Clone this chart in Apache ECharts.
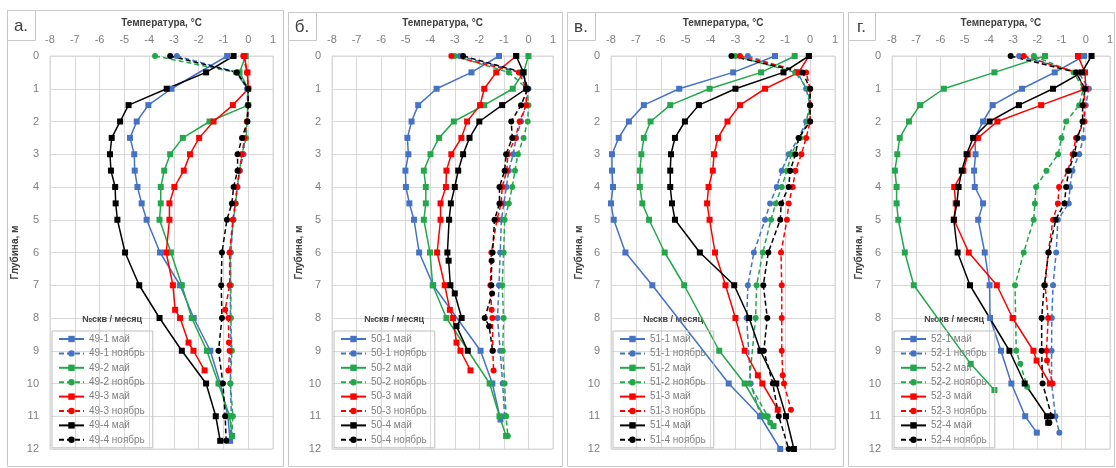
<!DOCTYPE html>
<html><head><meta charset="utf-8">
<script src="https://cdn.jsdelivr.net/npm/echarts@6/dist/echarts.min.js"></script>
<style>html,body{margin:0;padding:0;background:#fff}#c{width:1116px;height:468px}</style>
</head><body><div id="c"></div>
<script>
// ---- axis / labels ----
const tempMin = -8, tempMax = 1, tempStep = 1;
const depthMin = 0, depthMax = 12, depthStep = 1;
const xAxisTitle = 'Температура, °C';
const yAxisTitle = 'Глубина, м';
const legendTitle = '№скв / месяц';
const panelLabels = ['а.', 'б.', 'в.', 'г.'];
const wells = ['49', '50', '51', '52'];
const boreholes = ['1', '2', '3', '4'];
const months = ['май', 'ноябрь'];

// ---- data: [temperature °C, depth m] ----
// well 49
const s49_1_may = [[-0.85,0],[-3.1,1],[-4.03,1.5],[-4.5,2],[-4.77,2.5],[-4.6,3],[-4.58,3.5],[-4.47,4],[-4.3,4.5],[-4.1,5],[-3.56,6],[-2.75,7],[-2.2,8],[-1.53,9],[-1.13,10],[-0.82,11],[-0.73,11.75]];
const s49_1_nov = [[-2.88,0],[-0.45,0.5],[-0.05,1],[-0.02,1.5],[-0.05,2],[-0.15,2.5],[-0.19,3],[-0.35,3.5],[-0.43,4],[-0.53,4.5],[-0.6,5],[-0.7,6],[-0.72,7],[-0.72,8],[-0.7,9],[-0.72,10],[-0.68,11],[-0.75,11.75]];
const s49_2_may = [[-0.1,0],[-0.35,0.5],[0,1],[0,1.5],[-1.56,2],[-2.64,2.5],[-3.15,3],[-3.39,3.5],[-3.53,4],[-3.53,4.5],[-3.58,5],[-3.12,6],[-2.68,7],[-2.28,8],[-1.67,9],[-1.2,10],[-0.75,11],[-0.65,11.6]];
const s49_2_nov = [[-3.76,0],[-0.5,0.5],[-0.02,1],[-0.02,1.5],[-0.05,2],[-0.08,2.5],[-0.26,3],[-0.35,3.5],[-0.45,4],[-0.5,4.5],[-0.6,5],[-0.73,6],[-0.7,7],[-0.7,8],[-0.66,9],[-0.72,10],[-0.62,11],[-0.66,11.6]];
const s49_3_may = [[-0.16,0],[-0.03,0.5],[0,1],[-0.62,1.5],[-1.4,2],[-1.98,2.5],[-2.35,3],[-2.6,3.5],[-2.98,4],[-3.18,4.5],[-3.18,5],[-3.31,6],[-3.04,7],[-2.95,7.75],[-2.75,8],[-2.41,8.75],[-2.21,9],[-1.76,9.6]];
const s49_3_nov = [[-0.2,0],[-0.05,0.5],[0,1],[0,1.5],[-0.05,2],[-0.15,2.5],[-0.25,3],[-0.35,3.5],[-0.45,4],[-0.52,4.5],[-0.62,5],[-0.75,6],[-0.75,7],[-0.93,7.75],[-0.8,8],[-0.78,8.75],[-0.75,9],[-0.8,9.6]];
const s49_4_may = [[-0.59,0],[-1.7,0.5],[-3.29,1],[-4.83,1.5],[-5.17,2],[-5.51,2.5],[-5.58,3],[-5.54,3.5],[-5.37,4],[-5.35,4.5],[-5.28,5],[-4.97,6],[-4.4,7],[-3.58,8],[-2.68,9],[-1.7,10],[-1.31,11],[-1.13,11.75]];
const s49_4_nov = [[-3.15,0],[-0.46,0.5],[0,1],[0,1.5],[-0.03,2],[-0.25,2.5],[-0.43,3],[-0.43,3.5],[-0.59,4],[-0.66,4.5],[-0.86,5],[-1.06,6],[-1.09,7],[-1.06,8],[-1.2,9],[-1.02,10],[-0.93,11],[-0.89,11.75]];
// well 50
const s50_1_may = [[-1.2,0],[-2.32,0.5],[-3.74,1],[-4.49,1.5],[-4.76,2],[-4.93,2.5],[-4.89,3],[-5.01,3.5],[-4.99,4],[-4.85,4.5],[-4.66,5],[-4.45,6],[-3.88,7],[-1.95,9],[-1.47,10],[-1.14,11.1]];
const s50_1_nov = [[-2.8,0],[-0.3,0.5],[0,1],[-0.1,1.5],[-0.3,2],[-0.5,2.5],[-0.62,3],[-0.8,3.5],[-0.9,4],[-1.0,4.5],[-1.1,5],[-1.15,6],[-1.2,7],[-1.26,8],[-1.15,9],[-1.05,10],[-0.97,11]];
const s50_2_may = [[0,0],[-0.2,0.5],[-0.64,1],[-1.8,1.5],[-3.04,2],[-3.64,2.5],[-3.99,3],[-4.26,3.5],[-4.18,4],[-4.18,4.5],[-4.26,5],[-4.01,6],[-3.9,7],[-3.34,8],[-1.58,10],[-1.18,11],[-0.91,11.6]];
const s50_2_nov = [[-3.0,0],[-0.8,0.5],[-0.05,1],[0,1.5],[-0.03,2],[-0.2,2.5],[-0.43,3],[-0.55,3.5],[-0.66,4],[-0.8,4.5],[-0.97,5],[-1.01,6],[-1.07,7],[-1.01,8],[-1.05,9],[-0.97,10],[-0.91,11],[-0.84,11.6]];
const s50_3_may = [[-0.5,0],[-1.31,0.5],[-1.8,1],[-1.97,1.5],[-2.5,2],[-2.73,2.5],[-3.14,3],[-3.34,3.5],[-3.36,4],[-3.58,4.5],[-3.58,5],[-3.72,6],[-3.41,7],[-3.2,7.75],[-3.07,8],[-2.93,8.75],[-2.77,9],[-2.36,9.6]];
const s50_3_nov = [[-3.14,0],[-0.39,0.5],[-0.09,1],[-0.09,1.5],[-0.36,2],[-0.53,2.5],[-0.84,3],[-0.88,3.5],[-1.07,4],[-1.11,4.5],[-1.28,5],[-1.51,6],[-1.55,7],[-1.5,7.75],[-1.47,8],[-1.45,9],[-1.42,9.6]];
const s50_4_may = [[-0.5,0],[-0.2,0.5],[-0.09,1],[-1.07,1.5],[-2.0,2],[-2.4,2.5],[-2.66,3],[-2.86,3.5],[-3.0,4],[-3.16,4.5],[-3.23,5],[-3.3,6],[-3.25,6.25],[-3.18,7],[-3.0,7.25],[-2.72,8],[-2.93,8.25],[-2.47,9]];
const s50_4_nov = [[-2.66,0],[-0.23,0.5],[-0.03,1],[-0.3,1.5],[-0.7,2],[-0.66,2.5],[-0.91,3],[-0.97,3.5],[-1.18,4],[-1.18,4.5],[-1.38,5],[-1.46,6],[-1.5,6.25],[-1.51,7],[-1.48,7.25],[-1.78,8],[-1.6,8.25],[-1.46,9]];
// well 51
const s51_1_may = [[-1.41,0],[-3.09,0.5],[-5.26,1],[-6.68,1.5],[-7.28,2],[-7.69,2.5],[-7.96,3],[-7.96,3.5],[-7.92,4],[-8.0,4.5],[-7.89,5],[-7.42,6],[-6.34,7],[-3.27,10],[-2.01,11],[-1.2,12]];
const s51_1_nov = [[-2.5,0],[-0.5,0.5],[-0.16,1],[0,1.5],[-0.16,2],[-0.46,2.5],[-0.86,3],[-1.14,3.5],[-1.34,4],[-1.61,4.5],[-1.81,5],[-2.26,6],[-2.5,7],[-2.55,8],[-2.39,10],[-1.98,11]];
const s51_2_may = [[-0.62,0],[-1.97,0.5],[-4.04,1],[-5.62,1.5],[-6.41,2],[-6.68,2.5],[-6.78,3],[-6.84,3.5],[-6.84,4],[-6.74,4.5],[-6.47,5],[-5.84,6],[-5.06,7],[-3.65,9],[-2.63,10],[-1.85,11],[-1.47,11.3]];
const s51_2_nov = [[-3.0,0],[-0.6,0.5],[-0.1,1],[0,1.5],[-0.1,2],[-0.4,2.5],[-0.76,3],[-0.93,3.5],[-1.14,4],[-1.38,4.5],[-1.57,5],[-1.9,6],[-2.15,7],[-2.19,8],[-2.45,10],[-1.7,11],[-1.6,11.2]];
const s51_3_may = [[-0.05,0],[-0.46,0.5],[-1.81,1],[-2.82,1.5],[-3.32,2],[-3.7,2.5],[-3.86,3],[-3.91,3.5],[-4.08,4],[-4.14,4.5],[-4.04,5],[-3.82,6],[-3.4,7],[-3.0,8],[-2.63,9],[-2.1,9.75],[-1.92,10],[-1.3,10.8]];
const s51_3_nov = [[-2.82,0],[-0.16,0.5],[0,1],[0,1.5],[0,2],[-0.16,2.5],[-0.35,3],[-0.59,3.5],[-0.7,4],[-0.86,4.5],[-0.93,5],[-1.17,6],[-1.14,7],[-1.14,8],[-1.14,9],[-1.1,9.75],[-1.05,10],[-0.77,10.8]];
const s51_4_may = [[-0.05,0],[-1.07,0.5],[-3.0,1],[-4.47,1.5],[-5.03,2],[-5.43,2.5],[-5.59,3],[-5.62,3.5],[-5.62,4],[-5.55,4.5],[-5.43,5],[-4.43,6],[-3.05,7],[-2.45,8],[-2.0,9],[-1.36,10],[-0.97,11],[-0.65,12]];
const s51_4_nov = [[-3.16,0],[-0.3,0.5],[0,1],[0,1.5],[0,2],[-0.46,2.5],[-0.59,3],[-0.8,3.5],[-0.86,4],[-1.16,4.5],[-1.2,5],[-1.68,6],[-1.88,7],[-1.72,8],[-1.86,9],[-1.5,10],[-1.26,11],[-0.86,12]];
// well 52
const s52_1_may = [[-0.07,0],[-1.28,0.5],[-2.63,1],[-3.84,1.5],[-4.24,2],[-4.58,2.5],[-4.55,3],[-4.61,3.5],[-4.58,4],[-4.24,4.5],[-4.44,5],[-4.17,6],[-3.97,7],[-3.95,8],[-3.5,9],[-3.07,10],[-2.5,11],[-2.02,11.5]];
const s52_1_nov = [[-2.75,0],[-0.3,0.5],[0.13,1],[0,1.5],[-0.07,2],[-0.1,2.5],[-0.27,3],[-0.55,3.5],[-0.65,4],[-0.7,4.5],[-1.15,5],[-1.22,6],[-1.35,7],[-1.4,8],[-1.41,9],[-1.41,10],[-1.25,11],[-1.09,11.5]];
const s52_2_may = [[-1.68,0],[-3.77,0.5],[-5.86,1],[-6.84,1.5],[-7.3,2],[-7.68,2.5],[-7.78,3],[-7.88,3.5],[-7.81,4],[-7.81,4.5],[-7.74,5],[-7.47,6],[-7.1,7],[-4.75,9.4],[-3.77,10.2]];
const s52_2_nov = [[-2.14,0],[-0.5,0.5],[-0.1,1],[-0.27,1.5],[-0.81,2],[-1.0,2.5],[-1.14,3],[-1.62,3.5],[-2.05,4],[-2.1,4.5],[-2.15,5],[-2.56,6],[-2.92,7],[-2.87,9],[-2.7,9.4],[-2.42,10.1]];
const s52_3_may = [[-0.32,0],[-0.03,0.5],[0,1],[-1.84,1.5],[-3.65,2],[-4.45,2.5],[-4.87,3],[-5.05,3.5],[-5.43,4],[-5.37,4.5],[-5.44,5],[-4.83,6],[-3.67,7],[-3.02,8],[-2.16,9],[-2.03,9.3],[-1.48,10]];
const s52_3_nov = [[-2.56,0],[-0.4,0.5],[-0.05,1],[-0.07,1.5],[-0.05,2],[-0.4,2.5],[-0.54,3],[-0.74,3.5],[-1.1,4],[-1.15,4.5],[-1.35,5],[-1.55,6],[-1.68,7],[-1.55,8],[-1.62,9],[-1.6,9.3],[-1.37,10]];
const s52_4_may = [[0.24,0],[-0.16,0.5],[-1.35,1],[-2.76,1.5],[-3.97,2],[-4.65,2.5],[-4.92,3],[-5.12,3.5],[-5.25,4],[-5.32,4.5],[-5.45,5],[-5.29,6],[-4.78,7],[-3.15,9],[-2.52,10],[-1.6,11],[-1.55,11.2]];
const s52_4_nov = [[-3.1,0],[-0.4,0.5],[-0.03,1],[-0.13,1.5],[-0.13,2],[-0.34,2.5],[-0.47,3],[-0.7,3.5],[-0.81,4],[-0.88,4.5],[-1.24,5],[-1.53,6],[-1.71,7],[-1.82,8],[-1.82,9],[-1.78,10],[-1.41,11],[-1.5,11.2]];

const panelData = [
  [[s49_1_may, s49_1_nov], [s49_2_may, s49_2_nov], [s49_3_may, s49_3_nov], [s49_4_may, s49_4_nov]],
  [[s50_1_may, s50_1_nov], [s50_2_may, s50_2_nov], [s50_3_may, s50_3_nov], [s50_4_may, s50_4_nov]],
  [[s51_1_may, s51_1_nov], [s51_2_may, s51_2_nov], [s51_3_may, s51_3_nov], [s51_4_may, s51_4_nov]],
  [[s52_1_may, s52_1_nov], [s52_2_may, s52_2_nov], [s52_3_may, s52_3_nov], [s52_4_may, s52_4_nov]]
];

// ---- styles / layout ----
const colors = ['#4472C4', '#22A84A', '#FF0000', '#000000'];
const FONT = 'Liberation Sans, Arial, sans-serif';
const gridLeft = [50, 332, 611, 892];
const gridWidth = [223, 221, 224, 223];
const gridTop = 56, gridHeight = 393;
const yNameGap = [30, 28, 25, 28];
const panelBox = [[7, 10, 276, 456], [288, 12, 274, 454], [567, 12, 276, 454], [848, 12, 266, 454]];
const labelBox = [[7, 10, 28, 30], [288, 12, 28, 28], [567, 12, 28, 28], [848, 12, 27, 28]];

const chart = echarts.init(document.getElementById('c'), null, {renderer: 'canvas'});
const grids = [], xAxes = [], yAxes = [], series = [], legends = [], graphics = [];

for (let p = 0; p < 4; p++) {
  graphics.push({type: 'rect', shape: {x: panelBox[p][0] + 0.5, y: panelBox[p][1] + 0.5, width: panelBox[p][2], height: panelBox[p][3]},
    style: {fill: null, stroke: '#c9c9c9', lineWidth: 1}, z: 0, silent: true});
  graphics.push({type: 'rect', shape: {x: labelBox[p][0] + 0.5, y: labelBox[p][1] + 0.5, width: labelBox[p][2], height: labelBox[p][3]},
    style: {fill: '#fff', stroke: '#c9c9c9', lineWidth: 1}, z: 1, silent: true});
  graphics.push({type: 'text', x: labelBox[p][0] + labelBox[p][2] / 2, y: labelBox[p][1] + labelBox[p][3] / 2 + 1,
    style: {text: panelLabels[p], font: '17px ' + FONT, fill: '#404040', textAlign: 'center', textVerticalAlign: 'middle'}, z: 2, silent: true});
  graphics.push({type: 'text', x: gridLeft[p] + 62, y: 320,
    style: {text: legendTitle, font: 'bold 9px ' + FONT, fill: '#404040', textAlign: 'center', textVerticalAlign: 'middle'}, z: 2, silent: true});

  grids.push({left: gridLeft[p], top: gridTop, width: gridWidth[p], height: gridHeight, show: true, borderColor: '#d9d9d9', borderWidth: 1, containLabel: false});
  xAxes.push({type: 'value', gridIndex: p, position: 'top', min: tempMin, max: tempMax, interval: tempStep,
    name: xAxisTitle, nameLocation: 'middle', nameGap: 28,
    nameTextStyle: {fontFamily: FONT, fontSize: 10, fontWeight: 'bold', color: '#404040'},
    axisLine: {show: false}, axisTick: {show: false},
    axisLabel: {fontFamily: FONT, fontSize: 11, color: '#7f7f7f', margin: 11},
    splitLine: {show: true, lineStyle: {color: '#d9d9d9', width: 1}}});
  yAxes.push({type: 'value', gridIndex: p, inverse: true, min: depthMin, max: depthMax, interval: depthStep,
    name: yAxisTitle, nameLocation: 'middle', nameGap: yNameGap[p], nameRotate: 90,
    nameTextStyle: {fontFamily: FONT, fontSize: 10, fontWeight: 'bold', color: '#404040'},
    axisLine: {show: false}, axisTick: {show: false},
    axisLabel: {fontFamily: FONT, fontSize: 11, color: '#7f7f7f', margin: 11},
    splitLine: {show: true, lineStyle: {color: '#d9d9d9', width: 1}}});

  const names = [];
  for (let b = 0; b < 4; b++) {
    for (let m = 0; m < 2; m++) {
      const name = wells[p] + '-' + boreholes[b] + ' ' + months[m];
      names.push(name);
      series.push({
        type: 'line', name: name, xAxisIndex: p, yAxisIndex: p,
        data: panelData[p][b][m],
        symbol: m === 0 ? 'rect' : 'circle', symbolSize: 6,
        showAllSymbol: true,
        itemStyle: {color: colors[b]},
        lineStyle: {color: colors[b], width: 1.5, type: m === 0 ? 'solid' : [5, 3]},
        emphasis: {disabled: true}, animation: false, z: 3
      });
    }
  }
  legends.push({data: names, orient: 'vertical', left: gridLeft[p] + 2, top: 331,
    itemWidth: 25, itemHeight: 8, itemGap: 4.4,
    textStyle: {fontFamily: FONT, fontSize: 10, color: '#7f7f7f'},
    borderColor: '#bfbfbf', borderWidth: 1, padding: [3, 8, 3, 6], backgroundColor: 'transparent',
    selectedMode: false});
}

chart.setOption({
  animation: false,
  backgroundColor: '#ffffff',
  grid: grids, xAxis: xAxes, yAxis: yAxes, series: series, legend: legends, graphic: graphics
});
</script>
</body></html>
